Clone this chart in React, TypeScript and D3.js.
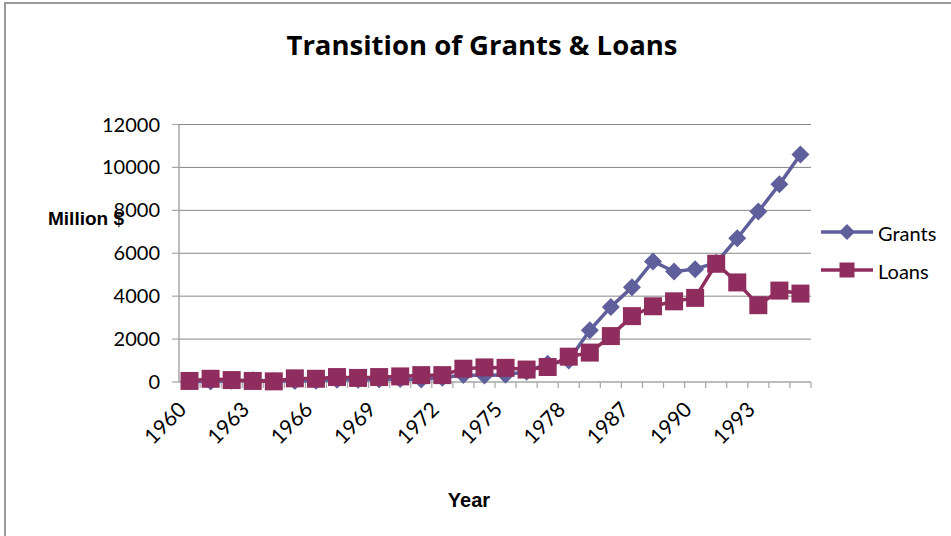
import React from "react";
import * as d3 from "d3";

const years: string[] = [
  "1960","1961","1962","1963","1964","1965","1966","1967","1968","1969",
  "1970","1971","1972","1973","1974","1975","1976","1977","1978","1979",
  "1980","1987","1988","1989","1990","1991","1992","1993","1994","1995",
];
const labeledYears: string[] = ["1960","1963","1966","1969","1972","1975","1978","1987","1990","1993"];
const grants: number[] = [40,20,60,80,50,50,60,100,110,120,140,120,200,330,300,340,480,850,1000,2410,3500,4410,5620,5150,5260,5560,6700,7940,9210,10600];
const loans: number[] = [50,150,90,50,30,170,150,230,190,230,260,320,320,620,680,660,580,700,1180,1370,2140,3070,3530,3760,3920,5510,4640,3580,4260,4120];
const yTicks: number[] = [0,2000,4000,6000,8000,10000,12000];

const W = 951, H = 536;
const GRANT_COLOR = "#5f5f9c";
const LOAN_COLOR = "#8f2e5e";

const diamond = (r: number) => `M0,${-r}L${r},0L0,${r}L${-r},0Z`;
const square = (s: number) => `M${-s / 2},${-s / 2}h${s}v${s}h${-s}Z`;

export default function App() {
  const x = d3.scaleBand<string>().domain(years).range([179, 811]).padding(0);
  const y = d3.scaleLinear().domain([0, 12000]).range([382, 124.5]);
  const cx = (i: number) => (x(years[i]) as number) + x.bandwidth() / 2;
  const line = d3.line<number>().x((_, i) => cx(i)).y((d) => y(d));
  const [x0, x1] = x.range();
  const labelFont = "Lato, 'Open Sans', sans-serif";

  return (
    <svg width={W} height={H} style={{ position: "absolute", left: 0, top: 0, background: "#fff" }}>
      <rect x={5} y={3} width={W + 20} height={H + 20} fill="#fff" stroke="#9a9a9a" strokeWidth={2} />
      <text x={482} y={55} textAnchor="middle" fontFamily="'Open Sans', Lato, sans-serif" fontWeight="bold" fontSize={27.5}>
        Transition of Grants &amp; Loans
      </text>
      {/* gridlines */}
      {yTicks.filter((t) => t > 0).map((t) => (
        <line key={t} x1={x0} x2={x1} y1={y(t)} y2={y(t)} stroke="#868686" strokeWidth={1} />
      ))}
      {/* y axis */}
      <line x1={x0} x2={x0} y1={y(12000)} y2={y(0)} stroke="#a6a6a6" strokeWidth={1.5} />
      {yTicks.map((t) => (
        <g key={t}>
          <line x1={x0 - 7} x2={x0} y1={y(t)} y2={y(t)} stroke="#a6a6a6" strokeWidth={1.2} />
          <text x={160} y={y(t) + 7} textAnchor="end" fontFamily={labelFont} fontSize={20}>
            {t}
          </text>
        </g>
      ))}
      {/* x axis */}
      <line x1={x0} x2={x1} y1={y(0)} y2={y(0)} stroke="#a6a6a6" strokeWidth={1.5} />
      {years.map((yr) => (
        <line key={yr} x1={(x(yr) as number) + x.bandwidth()} x2={(x(yr) as number) + x.bandwidth()} y1={y(0)} y2={y(0) + 6} stroke="#a6a6a6" strokeWidth={1.2} />
      ))}
      {years.map((yr, i) =>
        labeledYears.includes(yr) ? (
          <text
            key={yr}
            transform={`translate(${cx(i) - 2},${y(0) + 29}) rotate(-45)`}
            textAnchor="end"
            fontFamily={labelFont}
            fontSize={21}
          >
            {yr}
          </text>
        ) : null
      )}
      <text x={48} y={225} fontFamily="'Liberation Sans', Arial, sans-serif" fontWeight="bold" fontSize={19}>
        Million $
      </text>
      <text x={469} y={507} textAnchor="middle" fontFamily="'Liberation Sans', Arial, sans-serif" fontWeight="bold" fontSize={20}>
        Year
      </text>
      {/* series */}
      <path d={line(grants) as string} fill="none" stroke={GRANT_COLOR} strokeWidth={3.5} strokeLinejoin="round" />
      {grants.map((v, i) => (
        <path key={i} d={diamond(9)} transform={`translate(${cx(i)},${y(v)})`} fill={GRANT_COLOR} />
      ))}
      <path d={line(loans) as string} fill="none" stroke={LOAN_COLOR} strokeWidth={3.5} strokeLinejoin="round" />
      {loans.map((v, i) => (
        <path key={i} d={square(18)} transform={`translate(${cx(i)},${y(v)})`} fill={LOAN_COLOR} />
      ))}
      {/* legend */}
      <line x1={821} x2={873} y1={232} y2={232} stroke={GRANT_COLOR} strokeWidth={3.5} />
      <path d={diamond(8)} transform="translate(847,232)" fill={GRANT_COLOR} />
      <text x={878} y={241} fontFamily={labelFont} fontSize={20}>Grants</text>
      <line x1={821} x2={873} y1={270} y2={270} stroke={LOAN_COLOR} strokeWidth={3.5} />
      <path d={square(15)} transform="translate(847,270)" fill={LOAN_COLOR} />
      <text x={878} y={279} fontFamily={labelFont} fontSize={20}>Loans</text>
    </svg>
  );
}
